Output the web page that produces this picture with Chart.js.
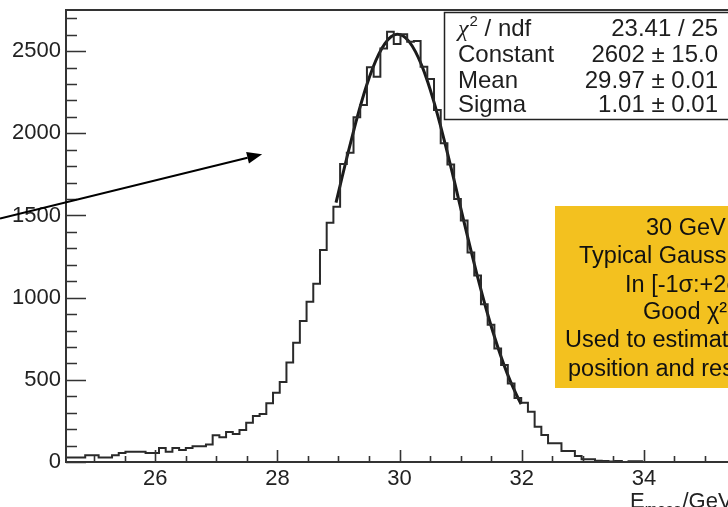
<!DOCTYPE html>
<html>
<head>
<meta charset="utf-8">
<script src="https://cdn.jsdelivr.net/npm/chart.js@4/dist/chart.umd.min.js"></script>
<style>
  html, body { margin: 0; padding: 0; background: #fff; overflow: hidden; }
  #wrap { width: 728px; height: 507px; overflow: hidden; position: relative; }
  canvas { display: block; }
</style>
</head>
<body>
<div id="wrap"><canvas id="c" width="760" height="507"></canvas></div>
<script>
// ---- data ----
const binStart = 24.525;   // GeV, left edge of first bin
const binWidth = 0.1098;   // GeV
const counts = [
  28, 28, 28, 41, 41, 28, 28, 41, 55, 63,
  63, 63, 55, 55, 85, 63, 85, 73, 85, 96,
  96, 107, 162, 150, 182, 170, 195, 239, 280, 292,
  357, 422, 487, 605, 726, 858, 975, 1085, 1290, 1456,
  1553, 1813, 1882, 2097, 2172, 2401, 2344, 2516, 2617, 2543,
  2603, 2557, 2562, 2405, 2330, 2141, 1940, 1810, 1600, 1470,
  1275, 1135, 960, 835, 690, 590, 478, 390, 360, 306,
  215, 164, 114, 114, 67, 67, 36, 16, 16, 8,
  6, 3, 6, 0, 5, 5, 0, 0, 0, 0,
  0, 0, 0, 0, 0, 0, 0, 0, 0, 0,
  0, 0, 0, 0
];
const fitX = [28.96, 29.06, 29.16, 29.26, 29.36, 29.46, 29.56, 29.66, 29.76, 29.86,
              29.96, 30.06, 30.16, 30.26, 30.36, 30.46, 30.56, 30.66, 30.76, 30.86,
              30.96, 31.06, 31.16, 31.26, 31.36, 31.46, 31.56, 31.66, 31.76, 31.86,
              31.96, 31.99];
const fitY = [1578, 1734, 1886, 2032, 2168, 2291, 2396, 2482, 2546, 2587,
              2602, 2592, 2556, 2497, 2415, 2313, 2194, 2060, 1916, 1765,
              1609, 1453, 1300, 1151, 1009, 876, 754, 642, 541, 452,
              373, 352];
const xTickValues = [26, 28, 30, 32, 34];
const yTickValues = [0, 500, 1000, 1500, 2000, 2500];
const xMinorStep = 0.5, xMajorStep = 2;
const yMinorStep = 100, yMajorStep = 500;
const statsLabels = ['χ', 'Constant', 'Mean', 'Sigma'];
const statsValues = ['23.41 / 25', '2602 ± 15.0', '29.97 ± 0.01', '1.01 ± 0.01'];
const noteLines = ['30 GeV', 'Typical Gaussian fit', 'In [-1σ:+2σ]', 'Good χ²', 'Used to estimate peak', 'position and resolution'];
const arrowFrom = {x: 23.46, y: 1482};
const arrowTo = {x: 27.75, y: 1873};

// ---- build datasets ----
const histPoints = counts.map((c, i) => ({x: binStart + i * binWidth, y: c}));
histPoints.push({x: binStart + counts.length * binWidth, y: counts[counts.length - 1]});
const fitPoints = fitX.map((x, i) => ({x: x, y: fitY[i]}));

const FONT = "'Liberation Sans', Arial, Helvetica, sans-serif";

const decor = {
  id: 'decor',
  afterDatasetsDraw(chart) {
    const {ctx, chartArea: a} = chart;
    const x = chart.scales.x, y = chart.scales.y;
    ctx.save();
    // inward tick marks
    ctx.strokeStyle = '#333';
    ctx.lineWidth = 1.6;
    ctx.beginPath();
    const x0 = Math.ceil(x.min / xMinorStep) * xMinorStep;
    for (let v = x0; v <= x.max + 1e-9; v += xMinorStep) {
      const px = Math.round(x.getPixelForValue(v)) + 0.5;
      const r = v / xMajorStep;
      const major = Math.abs(r - Math.round(r)) < 1e-6;
      ctx.moveTo(px, a.bottom);
      ctx.lineTo(px, a.bottom - (major ? 12 : 6));
    }
    for (let v = 0; v <= y.max + 1e-9; v += yMinorStep) {
      const py = Math.round(y.getPixelForValue(v)) + 0.5;
      const major = v % yMajorStep === 0;
      ctx.moveTo(a.left, py);
      ctx.lineTo(a.left + (major ? 20 : 11), py);
    }
    ctx.stroke();
    // frame
    ctx.lineWidth = 2;
    ctx.strokeStyle = '#333';
    ctx.beginPath();
    ctx.moveTo(a.right + 10, a.top);
    ctx.lineTo(a.left, a.top);
    ctx.lineTo(a.left, a.bottom);
    ctx.lineTo(a.right + 10, a.bottom);
    ctx.stroke();

    // stats box
    ctx.fillStyle = '#fff';
    ctx.fillRect(444, 12, 330, 108);
    ctx.strokeStyle = '#222';
    ctx.lineWidth = 1.5;
    ctx.strokeRect(444.5, 12.5, 330, 107);
    ctx.fillStyle = '#1e1e1e';
    const rowsY = [36, 62, 88, 112];
    ctx.textAlign = 'left';
    ctx.textBaseline = 'alphabetic';
    ctx.font = "italic 24px 'Liberation Serif', serif";
    ctx.fillText(statsLabels[0], 458, rowsY[0]);
    let w = ctx.measureText(statsLabels[0]).width;
    ctx.font = '15px ' + FONT;
    ctx.fillText('2', 458 + w + 1, rowsY[0] - 10);
    const w2 = ctx.measureText('2').width;
    ctx.font = '24px ' + FONT;
    ctx.fillText(' / ndf', 458 + w + w2 + 1, rowsY[0]);
    for (let i = 1; i < 4; i++) ctx.fillText(statsLabels[i], 458, rowsY[i]);
    ctx.textAlign = 'right';
    for (let i = 0; i < 4; i++) ctx.fillText(statsValues[i], 718, rowsY[i]);

    // yellow note box
    ctx.fillStyle = '#F3C11F';
    ctx.fillRect(555, 206, 220, 182);
    ctx.fillStyle = '#111';
    ctx.textAlign = 'left';
    ctx.font = '23.5px ' + FONT;
    const noteX = [646, 579, 625, 643, 565, 568];
    const noteY = [235, 262.5, 291.5, 319, 347, 376];
    for (let i = 0; i < noteLines.length; i++) ctx.fillText(noteLines[i], noteX[i], noteY[i]);

    // arrow
    const ax0 = x.getPixelForValue(arrowFrom.x), ay0 = y.getPixelForValue(arrowFrom.y);
    const ax1 = x.getPixelForValue(arrowTo.x), ay1 = y.getPixelForValue(arrowTo.y);
    const ang = Math.atan2(ay1 - ay0, ax1 - ax0);
    const hl = 15, hw = 6;
    const bx = ax1 - hl * Math.cos(ang), by = ay1 - hl * Math.sin(ang);
    ctx.strokeStyle = '#000';
    ctx.lineWidth = 2;
    ctx.beginPath();
    ctx.moveTo(ax0, ay0);
    ctx.lineTo(bx, by);
    ctx.stroke();
    ctx.fillStyle = '#000';
    ctx.beginPath();
    ctx.moveTo(ax1, ay1);
    ctx.lineTo(bx + hw * Math.sin(ang), by - hw * Math.cos(ang));
    ctx.lineTo(bx - hw * Math.sin(ang), by + hw * Math.cos(ang));
    ctx.closePath();
    ctx.fill();

    // x axis title E_meas /GeV
    ctx.fillStyle = '#222';
    ctx.textAlign = 'left';
    ctx.font = '22px ' + FONT;
    ctx.fillText('E', 630, 508);
    const we = ctx.measureText('E').width;
    ctx.font = '15px ' + FONT;
    ctx.fillText('meas', 630 + we, 514);
    const wm = ctx.measureText('meas').width;
    ctx.font = '22px ' + FONT;
    ctx.fillText(' /GeV', 630 + we + wm - 5, 508);
    ctx.restore();
  }
};

new Chart(document.getElementById('c'), {
  type: 'line',
  data: {
    datasets: [
      {
        data: histPoints,
        stepped: true,
        borderColor: '#2a2a2a',
        borderWidth: 2,
        pointRadius: 0,
        fill: false
      },
      {
        data: fitPoints,
        borderColor: '#1a1a1a',
        borderWidth: 3,
        pointRadius: 0,
        fill: false,
        cubicInterpolationMode: 'monotone'
      }
    ]
  },
  options: {
    responsive: false,
    animation: false,
    devicePixelRatio: 1,
    layout: { padding: { top: 10, right: 0, left: 0, bottom: 0 } },
    plugins: { legend: { display: false }, tooltip: { enabled: false } },
    scales: {
      x: {
        type: 'linear',
        min: 24.54,
        max: 35.9,
        grid: { display: false, drawTicks: false },
        border: { display: false },
        afterBuildTicks: s => { s.ticks = xTickValues.map(v => ({value: v})); },
        afterFit: s => { s.height = 45; s.paddingLeft = 0; s.paddingRight = 0; },
        ticks: {
          padding: 4,
          color: '#222',
          font: { family: FONT, size: 22 },
          maxRotation: 0,
          callback: v => String(v)
        }
      },
      y: {
        min: 0,
        max: 2750,
        grid: { display: false, drawTicks: false },
        border: { display: false },
        afterBuildTicks: s => { s.ticks = yTickValues.map(v => ({value: v})); },
        afterFit: s => { s.width = 66; s.paddingTop = 0; s.paddingBottom = 0; },
        ticks: {
          padding: 5,
          color: '#222',
          font: { family: FONT, size: 22 },
          callback: v => String(v)
        }
      }
    }
  },
  plugins: [decor]
});
</script>
</body>
</html>
